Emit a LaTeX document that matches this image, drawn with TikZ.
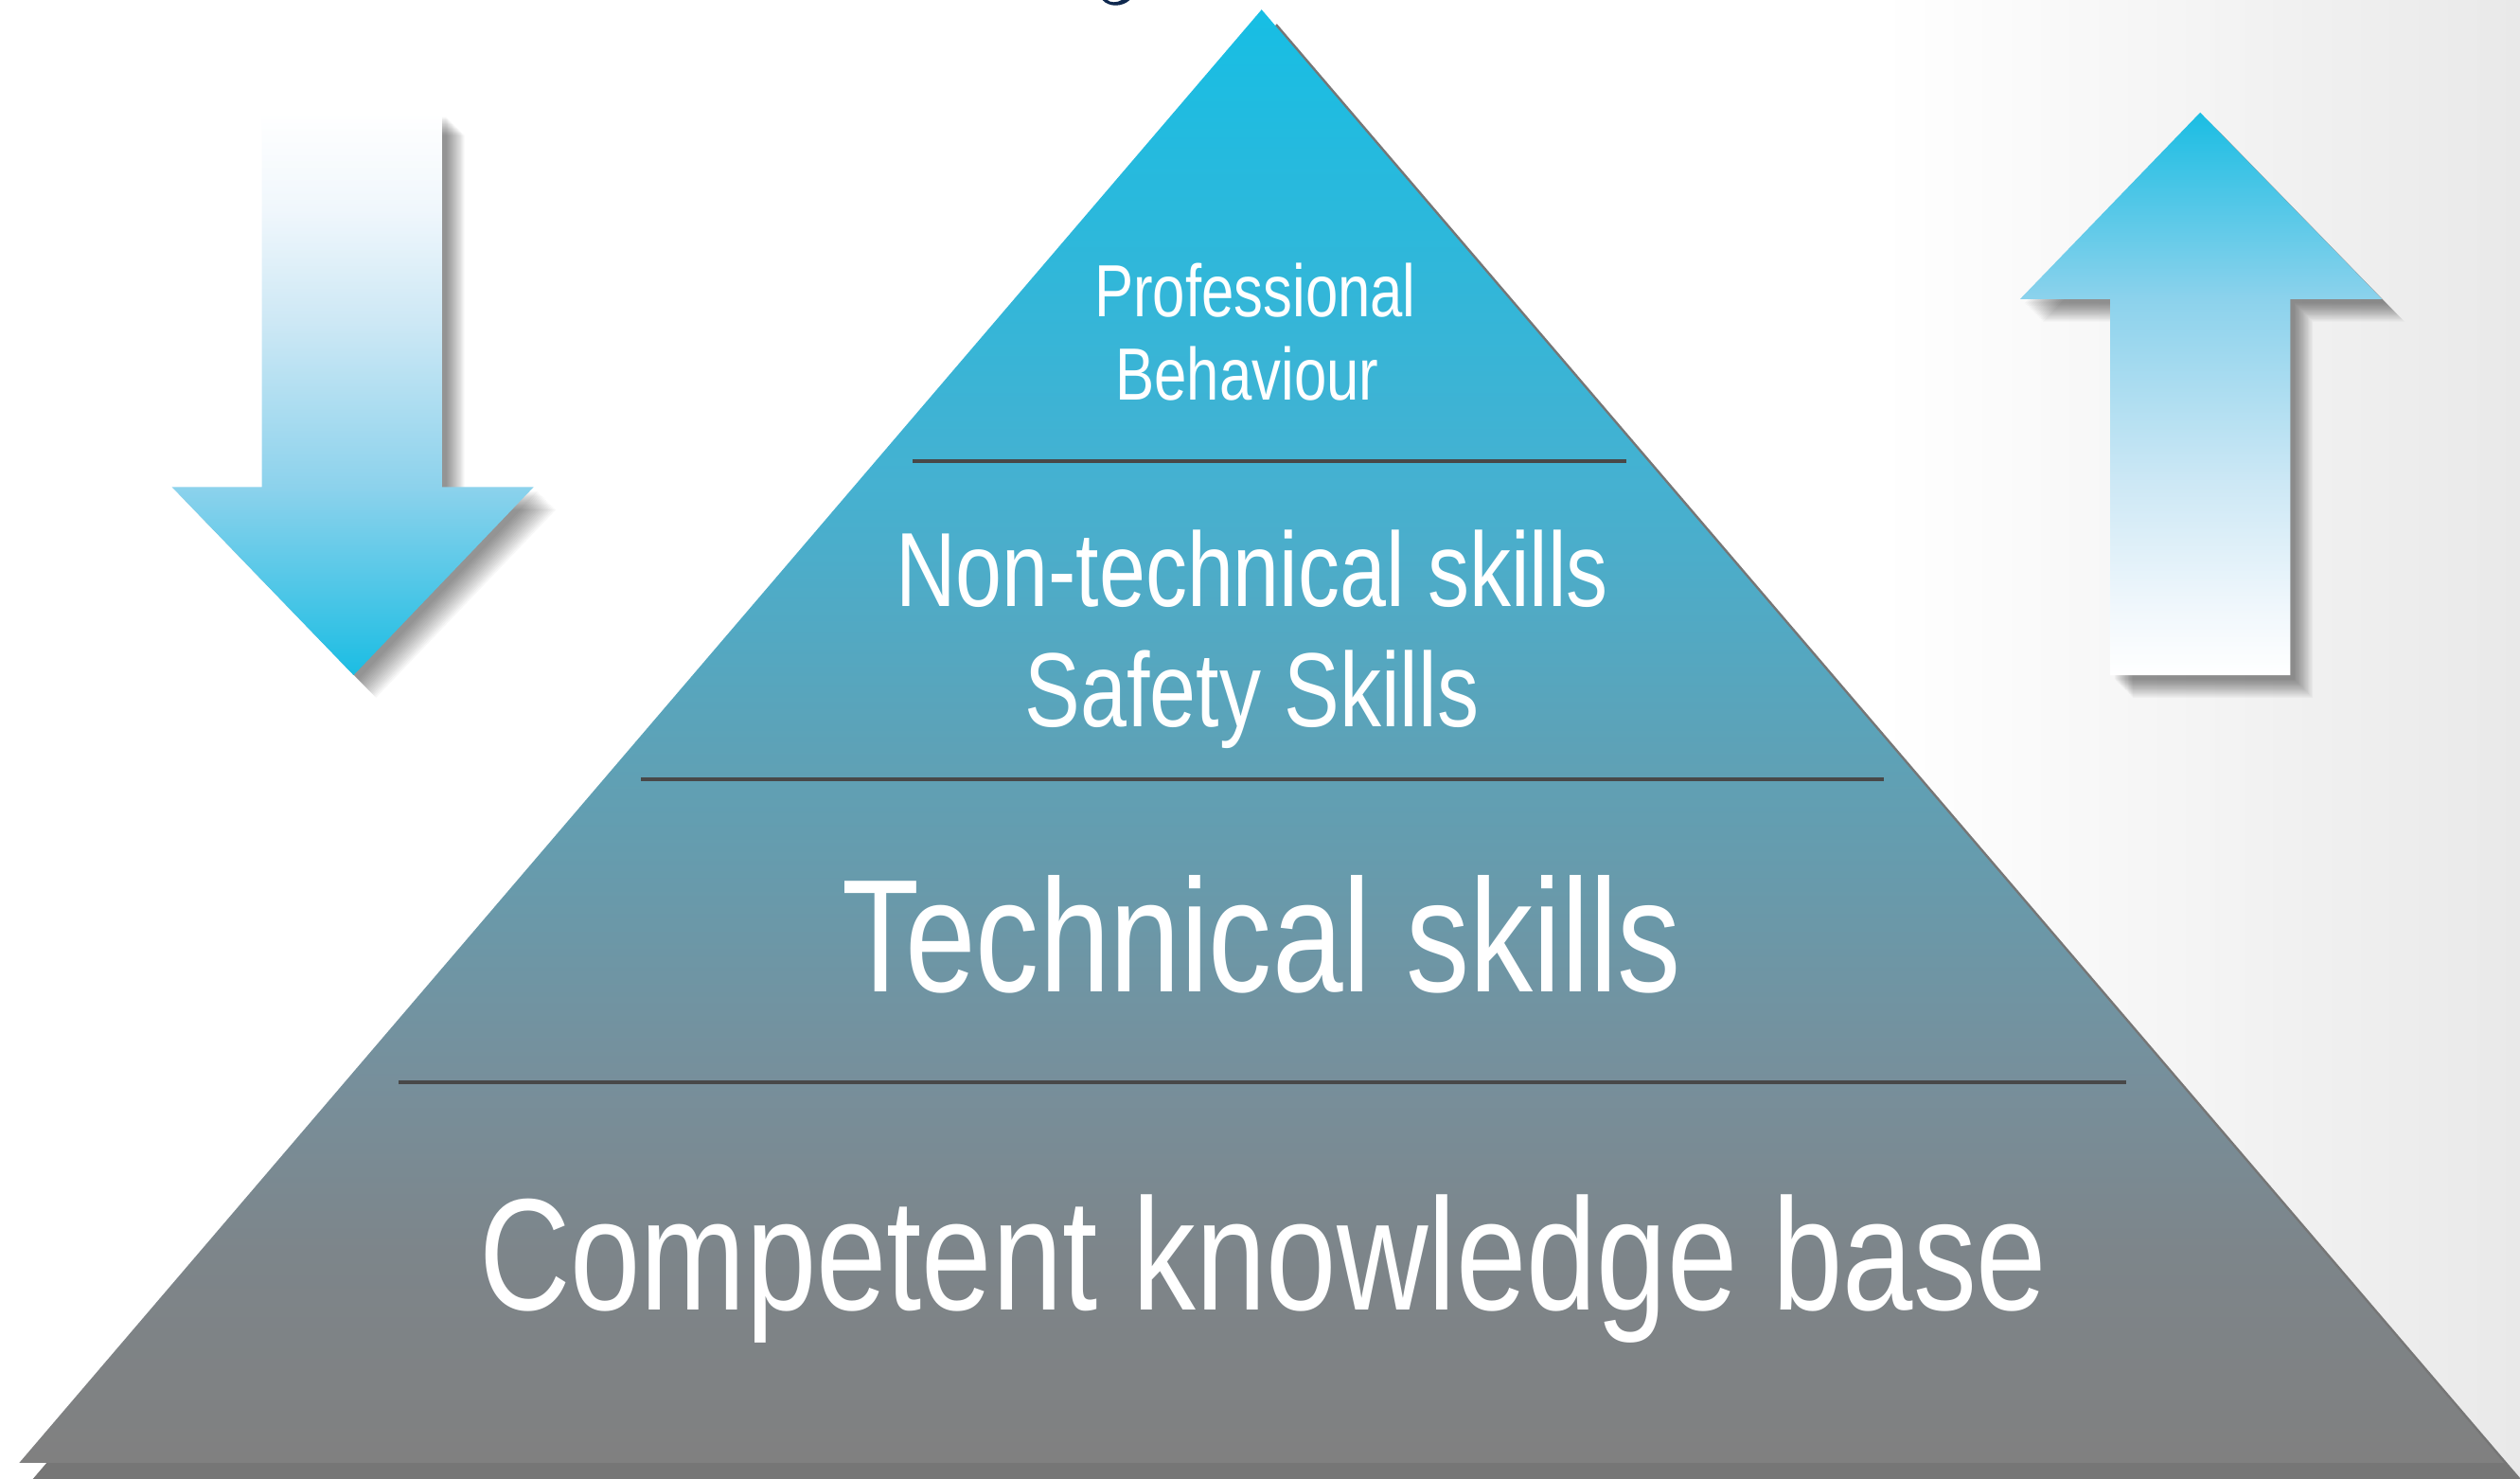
\documentclass[tikz,border=0pt]{standalone}
\usepackage{fontspec}
\newfontfamily\cond[FakeStretch=0.79]{Liberation Sans}
\newfontfamily\condB[FakeStretch=0.795]{Liberation Sans}
\definecolor{pyA}{RGB}{23,190,228}
\definecolor{pyB}{RGB}{69,177,209}
\definecolor{pyC}{RGB}{96,160,180}
\definecolor{pyD}{RGB}{119,143,155}
\definecolor{pyE}{RGB}{125,133,138}
\definecolor{pyF}{RGB}{128,128,128}
\definecolor{arCyan}{RGB}{27,189,227}
\definecolor{arHead}{RGB}{140,210,236}
\definecolor{arMid}{RGB}{205,232,245}
\definecolor{arLight}{RGB}{240,247,252}
\definecolor{pyShadow}{RGB}{118,118,118}
\definecolor{divgray}{RGB}{72,72,72}
\definecolor{bgGray}{RGB}{233,233,233}
\definecolor{navyfrag}{RGB}{14,40,78}
\pgfdeclareverticalshading{pyrshade}{100bp}{color(0bp)=(pyF); color(25bp)=(pyF); color(32.2bp)=(pyE); color(38.1bp)=(pyD); color(48.5bp)=(pyC); color(58.7bp)=(pyB); color(75bp)=(pyA); color(100bp)=(pyA)}
\pgfdeclareverticalshading{downshade}{100bp}{color(0bp)=(arCyan); color(25bp)=(arCyan); color(41.7bp)=(arHead); color(56.4bp)=(arMid); color(66.4bp)=(arLight); color(75bp)=(white); color(100bp)=(white)}
\pgfdeclareverticalshading{upshade}{100bp}{color(0bp)=(white); color(25bp)=(white); color(31bp)=(arLight); color(42bp)=(arMid); color(58.4bp)=(arHead); color(75bp)=(arCyan); color(100bp)=(arCyan)}
\newcommand\DownShape[1]{\path[#1] (163,70) -- (275,70) -- (275,303) -- (332,303) -- (220,420) -- (107,303) -- (163,303) -- cycle;}
\newcommand\UpShape[1]{\path[#1] (1369,70) -- (1482,186) -- (1425,186) -- (1425,420) -- (1313,420) -- (1313,186) -- (1257,186) -- cycle;}
\tikzset{
  lbl/.style={text=white, inner sep=0pt, anchor=base},
  divider/.style={draw=divgray, line width=1.2pt},
}
\begin{document}
\begin{tikzpicture}[x=0.5pt, y=-0.5pt]
\useasboundingbox (0,0) rectangle (1568,920);
\clip (0,0) rectangle (1568,920);
% background
\fill[white] (0,0) rectangle (1568,920);
\shade[left color=white, right color=bgGray] (1170,0) rectangle (1568,920);
% fragment at top
\fill[navyfrag] (686,0) .. controls (690,4.5) and (698,4.5) .. (703,0) -- (698,0) .. controls (695,1.8) and (691,1.8) .. (689,0) -- cycle;
% pyramid
\coordinate (apex) at (785,6);
\coordinate (bl) at (12,910);
\coordinate (br) at (1558,910);
\fill[pyShadow] (794.5,14.8) -- (3.4,940) -- (1585.6,940) -- cycle;
\shade[shading=pyrshade] (apex) -- (bl) -- (br) -- cycle;
% dividers
\coordinate (d1l) at (568,287); \coordinate (d1r) at (1012,287);
\coordinate (d2l) at (399,485); \coordinate (d2r) at (1172,485);
\coordinate (d3l) at (248,673); \coordinate (d3r) at (1323,673);
\draw[divider] (d1l) -- (d1r);
\draw[divider] (d2l) -- (d2r);
\draw[divider] (d3l) -- (d3r);
% labels
\node[lbl, font=\cond\fontsize{23}{26}\selectfont] (prof1) at (781,197) {Professional};
\node[lbl, font=\cond\fontsize{23}{26}\selectfont] (prof2) at (776,249) {Behaviour};
\node[lbl, font=\cond\fontsize{32.8}{37}\selectfont] (nt1) at (779,377) {Non-technical skills};
\node[lbl, font=\cond\fontsize{32.8}{37}\selectfont] (nt2) at (779,452) {Safety Skills};
\node[lbl, font=\cond\fontsize{50}{56}\selectfont] (tech) at (785,617) {Technical skills};
\node[lbl, font=\condB\fontsize{49.5}{56}\selectfont] (comp) at (786,815) {Competent knowledge base};
% arrow shadows (soft)
\foreach \k in {1,...,16} {\DownShape{fill=black, fill opacity=0.03, shift={(2+0.75*\k,2+0.75*\k)}}}
\foreach \k in {1,...,16} {\UpShape{fill=black, fill opacity=0.03, shift={(2+0.75*\k,2+0.75*\k)}}}
% arrows
\DownShape{shade, shading=downshade}
\UpShape{shade, shading=upshade}
\end{tikzpicture}
\end{document}
